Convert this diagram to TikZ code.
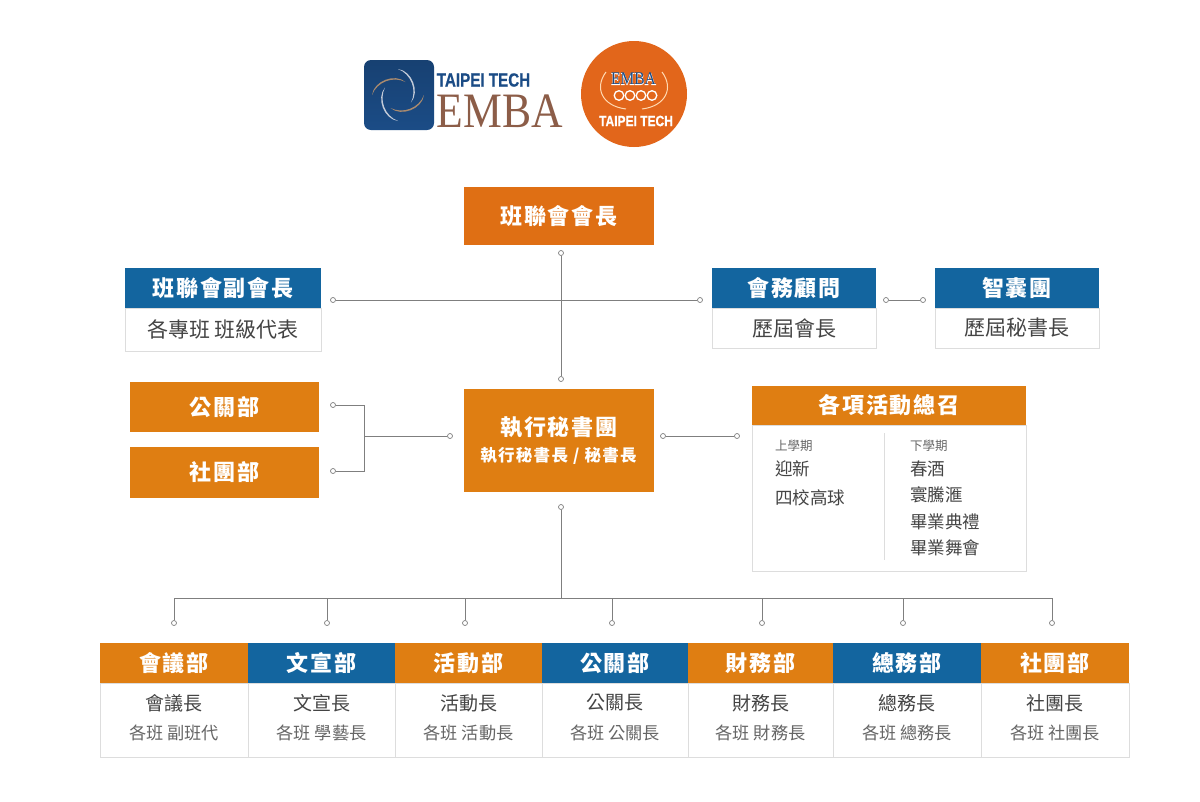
\documentclass[tikz,border=0pt]{standalone}
\usepackage{fontspec}
\usetikzlibrary{calc}
\setmainfont{Liberation Sans}
\newfontfamily\cjk{Noto Sans CJK TC}
\newfontfamily\cjkhead[LetterSpace=8]{Noto Sans CJK TC}
\newfontfamily\logoserif{Liberation Serif}
\newfontfamily\logohalo[FakeBold=3]{Liberation Serif}
\newfontfamily\logoheavy[FakeBold=0.6]{Liberation Sans Bold}
\definecolor{orangeTop}{HTML}{DF6F14}
\definecolor{orangeBox}{HTML}{DF7E12}
\definecolor{blueBox}{HTML}{13659F}
\definecolor{edgeGray}{HTML}{DDDDDD}
\definecolor{wireGray}{HTML}{7F7F7F}
\definecolor{textDark}{HTML}{444444}
\definecolor{textSoft}{HTML}{666666}
\definecolor{logoBrown}{HTML}{8C5D48}
\definecolor{logoNavy}{HTML}{1B4C86}
\definecolor{logoOrange}{HTML}{E2661B}
\definecolor{logoBronze}{HTML}{A98A6E}
\definecolor{logoSilver}{HTML}{C3CBD8}
\tikzset{
  headbox/.style={fill=#1, minimum height=40pt, inner sep=0pt, text=white, font=\cjkhead\bfseries\fontsize{22}{26}\selectfont},
  headbox/.default=blueBox,
  bodybox/.style={draw=edgeGray, fill=white, line width=0.8pt, inner sep=0pt, text=textDark, font=\cjk\fontsize{21}{25}\selectfont},
  cellmain/.style={inner sep=0pt, text=textDark, font=\cjk\fontsize{19}{23}\selectfont},
  cellsub/.style={inner sep=0pt, text=textSoft, font=\cjk\fontsize{17.2}{21}\selectfont},
  dot/.style={circle, draw=wireGray, fill=white, line width=0.7pt, minimum size=5pt, inner sep=0pt},
  wire/.style={draw=wireGray, line width=0.9pt},
}
\begin{document}
\begin{tikzpicture}[x=1pt, y=-1pt]
  \useasboundingbox (0,0) rectangle (1200,801);
  \fill[white] (0,0) rectangle (1200,801);
  % square logo
  \shade[top color=logoNavy!85!black, bottom color=logoNavy, rounded corners=7pt] (364,60) rectangle (434,130);
  \foreach \ang/\col in {0/logoBronze, 90/logoSilver, 180/logoBronze, 270/logoSilver}{
    \fill[\col] ($(398,95)+(\ang:26)$) to[bend left=62] ($(398,95)+(\ang+120:15)$) to[bend right=48] ($(398,95)+(\ang:26)$);
  }
  \node[inner sep=0pt, text=logoNavy, font=\logoheavy\fontsize{19}{19}\selectfont] (logoTech) at (483.5,80) {\scalebox{.8}[1]{TAIPEI TECH}};
  \node[inner sep=0pt, text=logoBrown, font=\logoserif\fontsize{45}{45}\selectfont] (logoEmba) at (500,111) {\scalebox{.97}[1.1]{EMBA}};
  % round logo
  \fill[logoOrange] (634,94) circle (53);
  \draw[orange!30!white, line width=1pt] (606,72) .. controls (594,88) and (602,106) .. (626,109);
  \draw[orange!30!white, line width=1pt] (662,72) .. controls (674,88) and (666,106) .. (642,109);
  \node[inner sep=0pt, text=white, font=\logohalo\fontsize{15.5}{16}\selectfont] (sealHalo) at (633.5,79) {\scalebox{1}[1.15]{EMBA}};
  \node[inner sep=0pt, text=logoNavy, font=\logoserif\fontsize{15.5}{16}\selectfont] (sealEmba) at (633.5,79) {\scalebox{1}[1.15]{EMBA}};
  \foreach \x in {619,630,641,652}{\draw[white, line width=1.3pt] (\x,95.5) circle (4.8);}
  \node[inner sep=0pt, text=white, font=\logoheavy\fontsize{15}{15}\selectfont] (sealTech) at (636,121) {\scalebox{.8}[1]{TAIPEI TECH}};
  % upper boxes
  \node[headbox=orangeTop, minimum width=190pt, minimum height=58pt] (president) at (559,216) {班聯會會長};
  \node[bodybox, minimum width=196pt, minimum height=43pt] (viceBody) at (223,329.5) {各專班 班級代表};
  \node[headbox, minimum width=196pt] (vice) at (223,288) {班聯會副會長};
  \node[bodybox, minimum width=164pt, minimum height=40pt] (adviserBody) at (794,328) {歷屆會長};
  \node[headbox, minimum width=164pt] (adviser) at (794,288) {會務顧問};
  \node[bodybox, minimum width=164pt, minimum height=40pt] (thinkBody) at (1017,328) {歷屆秘書長};
  \node[headbox, minimum width=164pt] (think) at (1017,288) {智囊團};
  % middle boxes
  \node[headbox=orangeBox, minimum width=189pt, minimum height=50pt] (pr) at (224.5,407) {公關部};
  \node[headbox=orangeBox, minimum width=189pt, minimum height=51pt] (club) at (224.5,472.5) {社團部};
  \node[headbox=orangeBox, minimum width=190pt, minimum height=103pt] (secretary) at (559,440.5) {};
  \node[inner sep=0pt, text=white, font=\cjkhead\bfseries\fontsize{22}{26}\selectfont] (secTitle) at (559,427) {執行秘書團};
  \node[inner sep=0pt, text=white, font=\cjkhead\bfseries\fontsize{16.5}{20}\selectfont] (secSub) at (558.5,456) {執行秘書長 / 秘書長};
  % activity card
  \node[bodybox, minimum width=274pt, minimum height=146pt] (eventBody) at (889,498) {};
  \node[headbox=orangeBox, minimum width=274pt, minimum height=39pt] (event) at (889,405.5) {各項活動總召};
  \draw[edgeGray, line width=0.8pt] (884,433) -- (884,560);
  \foreach \name/\x/\y/\txt/\sz/\col in {
    termA/775/446/上學期/12.5/textSoft, welcome/775/469/迎新/17.5/textDark, golf/775/498/四校高球/17.5/textDark,
    termB/910/446/下學期/12.5/textSoft, spring/910/469/春酒/17.5/textDark, party/910/495/寰騰滙/17.5/textDark,
    grad/910/522/畢業典禮/17.5/textDark, dance/910/548/畢業舞會/17.5/textDark}{
    \node[anchor=west, inner sep=0pt, text=\col, font=\cjk\fontsize{\sz}{20}\selectfont] (\name) at (\x,\y) {\txt};
  }
  % department table
  \foreach \i/\x/\w/\col/\dept/\chief/\rep in {
    1/174/148/orangeBox/會議部/會議長/各班 副班代,
    2/321.5/147/blueBox/文宣部/文宣長/各班 學藝長,
    3/468.5/147/orangeBox/活動部/活動長/各班 活動長,
    4/615/146/blueBox/公關部/公關長/各班 公關長,
    5/760.5/145/orangeBox/財務部/財務長/各班 財務長,
    6/907/148/blueBox/總務部/總務長/各班 總務長,
    7/1055/148/orangeBox/社團部/社團長/各班 社團長}{
    \node[bodybox, minimum width=\w pt, minimum height=74pt] (cell\i) at (\x,720) {};
    \node[headbox=\col, minimum width=\w pt] (dept\i) at (\x,663) {\dept};
    \node[cellmain] (chief\i) at (\x,703) {\chief};
    \node[cellsub] (rep\i) at (\x,733) {\rep};
  }
  % connector dots
  \foreach \name/\x/\y in {dTop/561/253, dSec/561/379, dVice/333/300, dAdv/700/300, dAdvR/886/300, dThink/923/300,
    dPr/333/405, dClub/333/471, dSecL/450/436, dSecR/663/436, dEvent/737/436, dDown/561/507}{
    \node[dot] (\name) at (\x,\y) {};
  }
  \coordinate (brace) at (364,436);
  \coordinate (bus) at (561,598);
  % connectors
  \draw[wire] (dTop) -- (dSec);
  \draw[wire] (dVice) -- (dAdv);
  \draw[wire] (dAdvR) -- (dThink);
  \draw[wire] (dPr) -| (brace);
  \draw[wire] (dClub) -| (brace);
  \draw[wire] (brace) -- (dSecL);
  \draw[wire] (dSecR) -- (dEvent);
  \draw[wire] (dDown) -- (bus);
  \foreach \i/\x in {1/174, 2/327, 3/465, 4/612, 5/762, 6/903, 7/1052}{
    \node[dot] (drop\i) at (\x,623) {};
    \draw[wire] (drop\i) -- (\x,598) -- (bus);
  }
\end{tikzpicture}
\end{document}
